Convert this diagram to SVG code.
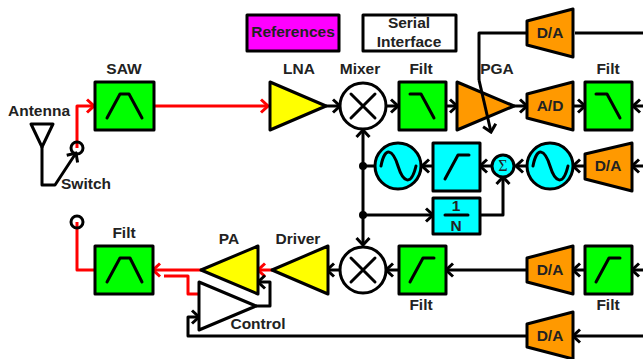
<svg xmlns="http://www.w3.org/2000/svg" width="643" height="359" viewBox="0 0 643 359">
<style>
text{font-family:"Liberation Sans",Arial,sans-serif;font-weight:700;font-size:15.5px;fill:#222;text-anchor:middle}
.b{stroke:#000;stroke-width:3;stroke-linejoin:round}
.g{fill:#0f0}.y{fill:#ff0}.o{fill:#f90}.c{fill:#0ff}.w{fill:#fff}
.l{fill:none;stroke:#000;stroke-width:3;stroke-linejoin:round}
.r{fill:none;stroke:#f00;stroke-width:3;stroke-linejoin:round}
.i{fill:none;stroke:#000;stroke-width:3;stroke-linecap:round;stroke-linejoin:round}
</style>
<defs>
<marker id="a" markerUnits="userSpaceOnUse" markerWidth="12" markerHeight="16" refX="10" refY="8" orient="auto"><path d="M3,1.500L10,8L3,14.500" fill="none" stroke="#000" stroke-width="3"/></marker>
<marker id="ar" markerUnits="userSpaceOnUse" markerWidth="12" markerHeight="16" refX="10" refY="8" orient="auto"><path d="M3,1.500L10,8L3,14.500" fill="none" stroke="#f00" stroke-width="3"/></marker>
</defs>
<g id="connectors">
<path class="l" d="M42,147V185H55L76,153" marker-end="url(#a)"/>
<path class="r" d="M77,148V106H94" marker-end="url(#ar)"/>
<path class="r" d="M154,106H268" marker-end="url(#ar)"/>
<path class="l" d="M326,106H340" marker-end="url(#a)"/>
<path class="l" d="M387,106H398" marker-end="url(#a)"/>
<path class="l" d="M446,106H457" marker-end="url(#a)"/>
<path class="l" d="M514,106H527" marker-end="url(#a)"/>
<path class="l" d="M573,106H585" marker-end="url(#a)"/>
<path class="l" d="M643,106H633" marker-end="url(#a)"/>
<path class="l" d="M526,33H479V80"/>
<path class="l" d="M575,33H643"/>
<path class="l" d="M363,166V130" marker-end="url(#a)"/>
<path class="l" d="M363,166V245" marker-end="url(#a)"/>
<path class="l" d="M363,166H375"/>
<path class="l" d="M363,215H433" marker-end="url(#a)"/>
<path class="l" d="M433,166H422" marker-end="url(#a)"/>
<path class="l" d="M493,166H480" marker-end="url(#a)"/>
<path class="l" d="M527,166H516" marker-end="url(#a)"/>
<path class="l" d="M585,166H573" marker-end="url(#a)"/>
<path class="l" d="M643,166H632" marker-end="url(#a)"/>
<path class="l" d="M480,215H503V177" marker-end="url(#a)"/>
<path class="l" d="M399,270H386" marker-end="url(#a)"/>
<path class="l" d="M526,270H446" marker-end="url(#a)"/>
<path class="l" d="M585,270H573" marker-end="url(#a)"/>
<path class="l" d="M643,270H632" marker-end="url(#a)"/>
<path class="l" d="M340,270H327" marker-end="url(#a)"/>
<path class="r" d="M272,270H258" marker-end="url(#ar)"/>
<path class="r" d="M201,270H153" marker-end="url(#ar)"/>
<path class="r" d="M94,270H77V222"/>
<path class="r" d="M200,294H188V276H164"/>
<path class="l" d="M256,306H270V282H258" marker-end="url(#a)"/>
<path class="l" d="M643,336H573" marker-end="url(#a)"/>
<path class="l" d="M526,336H188V317H199" marker-end="url(#a)"/>
</g>
<g id="antenna"><path class="l" d="M31,124H53L42,147Z"/><text x="39" y="116">Antenna</text></g>
<g id="switch-top"><circle class="l" cx="77" cy="148" r="6"/><text x="86" y="189">Switch</text></g>
<g id="switch-bottom"><circle class="l" cx="77" cy="222" r="6"/></g>
<g id="saw"><rect class="b g" x="95" y="82" width="59" height="48"/><path class="i" d="M107,118L120,94H129L142,118"/><text x="124" y="74">SAW</text></g>
<g id="references"><rect class="b" fill="#f0f" x="247" y="15" width="92" height="36"/><text x="293" y="37">References</text></g>
<g id="serial"><rect class="b w" x="363" y="15" width="93" height="36"/><text x="409" y="28">Serial</text><text x="409" y="47">Interface</text></g>
<g id="lna"><path class="b y" d="M270,82L326,106L270,130Z"/><text x="299" y="74">LNA</text></g>
<g id="mixer1"><circle class="b w" cx="363" cy="106" r="23"/><path class="i" d="M351,94L375,118M375,94L351,118"/><text x="360" y="74">Mixer</text></g>
<g id="filt1"><rect class="b g" x="399" y="82" width="47" height="48"/><path class="i" d="M410,94H421L434,118"/><text x="421" y="74">Filt</text></g>
<g id="pga"><path class="b o" d="M457,82L514,106L457,130Z"/><text x="497" y="74">PGA</text><path class="l" d="M479,80L491,132" marker-end="url(#a)"/></g>
<g id="ad"><path class="b o" d="M527,94L573,82V130L527,118Z"/><text x="550" y="111">A/D</text></g>
<g id="da1"><path class="b o" d="M527,21L573,9V57L527,45Z"/><text x="550" y="38">D/A</text></g>
<g id="filt2"><rect class="b g" x="585" y="82" width="47" height="48"/><path class="i" d="M596,94H607L620,118"/><text x="608" y="74">Filt</text></g>
<g id="vco1"><circle class="b c" cx="398" cy="166" r="23"/><path class="i" d="M381,166C385,145 393,150 398,166C403,182 411,187 416,166"/></g>
<g id="lpf"><rect class="b c" x="433" y="143" width="47" height="48"/><path class="i" d="M445,179L458,155H469"/></g>
<g id="sum"><circle class="b c" cx="503" cy="166" r="11"/><text x="503" y="171" style="font-family:'Liberation Serif',serif;font-weight:400;font-size:16px">Σ</text></g>
<g id="vco2"><circle class="b c" cx="550" cy="166" r="23"/><path class="i" d="M533,166C537,145 545,150 550,166C555,182 563,187 568,166"/></g>
<g id="da2"><path class="b o" d="M585,154L632,143V191L585,179Z"/><text x="608" y="171">D/A</text></g>
<g id="div"><rect class="b c" x="433" y="198" width="47" height="36"/><path class="i" d="M445,215H468"/><text x="456" y="211">1</text><text x="456" y="231">N</text></g>
<g id="mixer2"><circle class="b w" cx="363" cy="270" r="23"/><path class="i" d="M351,258L375,282M375,258L351,282"/></g>
<g id="filt3"><rect class="b g" x="399" y="246" width="47" height="48"/><path class="i" d="M410,282L423,258H434"/><text x="421" y="310">Filt</text></g>
<g id="da3"><path class="b o" d="M527,258L573,246V294L527,282Z"/><text x="550" y="275">D/A</text></g>
<g id="filt4"><rect class="b g" x="585" y="246" width="47" height="48"/><path class="i" d="M596,282L609,258H620"/><text x="608" y="310">Filt</text></g>
<g id="da4"><path class="b o" d="M527,324L573,312V359L527,347Z"/><text x="550" y="341">D/A</text></g>
<g id="filt5"><rect class="b g" x="95" y="246" width="58" height="48"/><path class="i" d="M107,282L120,258H130L142,282"/><text x="124" y="238">Filt</text></g>
<g id="pa"><path class="b y" d="M201,270L258,246V294Z"/><text x="229" y="244">PA</text></g>
<g id="driver"><path class="b y" d="M272,270L328,246V294Z"/><text x="298" y="244">Driver</text></g>
<g id="control"><path class="b w" d="M199,282L256,306L199,330Z"/><text x="258" y="329">Control</text></g>
<g id="junctions"><circle cx="363" cy="166" r="4"/><circle cx="363" cy="215" r="4"/></g>
</svg>
